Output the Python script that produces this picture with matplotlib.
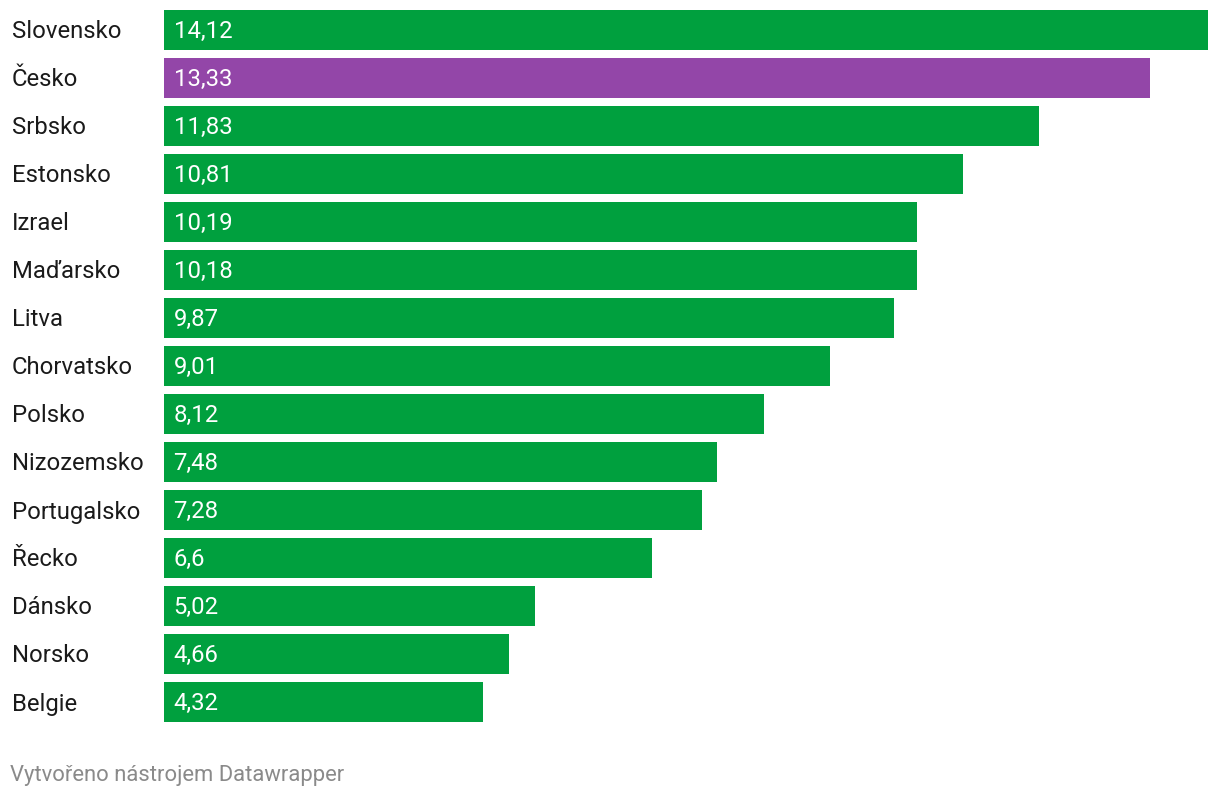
import matplotlib
matplotlib.use("Agg")
import matplotlib.pyplot as plt

countries = ["Slovensko", "Česko", "Srbsko", "Estonsko", "Izrael", "Maďarsko", "Litva",
             "Chorvatsko", "Polsko", "Nizozemsko", "Portugalsko", "Řecko", "Dánsko",
             "Norsko", "Belgie"]
values = [14.12, 13.33, 11.83, 10.81, 10.19, 10.18, 9.87, 9.01, 8.12, 7.48, 7.28,
          6.6, 5.02, 4.66, 4.32]
highlight = "Česko"

green = "#00a03e"
purple = "#9346a8"

plt.rcParams['font.family'] = ['Roboto', 'DejaVu Sans']

W, H = 1220, 798
fig = plt.figure(figsize=(W / 100, H / 100), dpi=100)
# axes placed in pixel units: x 164..1208, y 6..726 (from top)
ax = fig.add_axes([164 / W, 1 - 726 / H, (1208 - 164) / W, 720 / H])

colors = [purple if c == highlight else green for c in countries]
ypos = list(range(len(countries)))
ax.barh(ypos, values, height=40 / 48, color=colors, align='center')
ax.set_xlim(0, max(values))
ax.set_ylim(len(countries) - 0.5, -0.5)
ax.axis('off')

fs = 17.2
for y, c, v in zip(ypos, countries, values):
    lab = ("%g" % v).replace(".", ",")
    ax.text(0.13, y + 0.04, lab, color="white", fontsize=fs, va='center', ha='left')
    ax.text(12 / W, 1 - (32 + 48 * y) / H, c, transform=fig.transFigure,
            fontsize=fs, color="#1a1a1a", va='center', ha='left')

fig.text(10 / W, 1 - 776 / H, "Vytvořeno nástrojem Datawrapper", fontsize=15.8,
         color="#8a8a8a", va='center', ha='left')

fig.savefig("out.png", dpi=100)
